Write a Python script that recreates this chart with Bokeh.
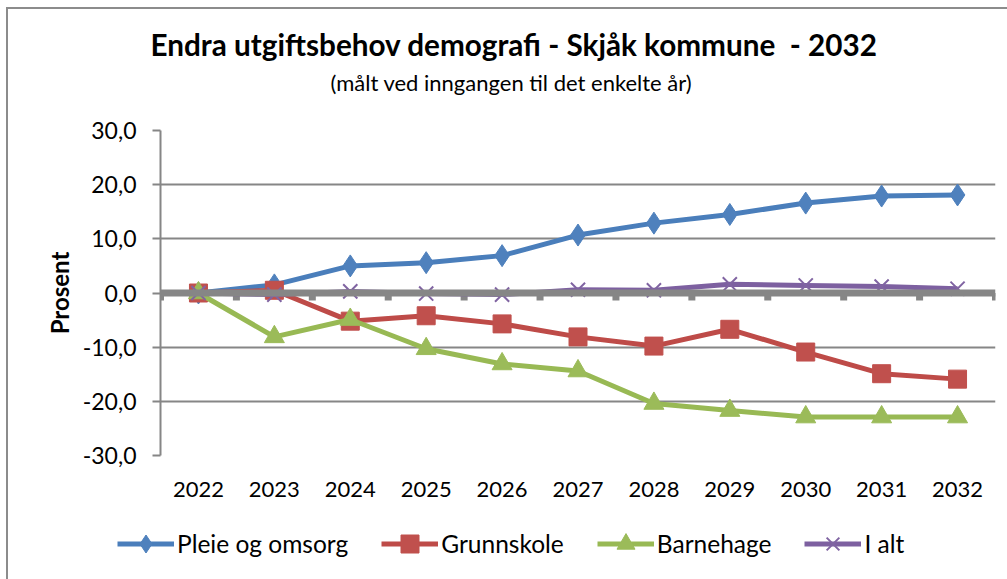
from bokeh.plotting import figure
from bokeh.layouts import column
from bokeh.models import (FactorRange, Range1d, FixedTicker, Span, Title, Legend, LegendItem)
from bokeh.embed import file_html
from bokeh.resources import INLINE

years = ["2022", "2023", "2024", "2025", "2026", "2027", "2028", "2029", "2030", "2031", "2032"]
pleie = [0.0, 1.5, 5.0, 5.6, 6.9, 10.7, 12.9, 14.5, 16.6, 17.9, 18.1]
grunnskole = [0.0, 0.5, -5.2, -4.2, -5.7, -8.1, -9.8, -6.7, -10.9, -14.9, -15.9]
barnehage = [0.0, -8.1, -4.9, -10.3, -13.1, -14.4, -20.4, -21.7, -22.9, -22.9, -22.9]
i_alt = [0.0, -0.3, 0.3, -0.1, -0.3, 0.6, 0.5, 1.6, 1.4, 1.2, 0.8]
y_ticks = [-30, -20, -10, 0, 10, 20, 30]
y_tick_labels = ["-30,0", "-20,0", "-10,0", "0,0", "10,0", "20,0", "30,0"]
series_names = ["Pleie og omsorg", "Grunnskole", "Barnehage", "I alt"]

FONT = "Lato"
GRID = "#868686"
BORDER = "2px solid #8c8c8c"

p = figure(frame_width=833, frame_height=323, x_range=FactorRange(factors=years),
           y_range=Range1d(y_ticks[0], y_ticks[-1]),
           output_backend="svg", toolbar_location=None,
           min_border_left=152, min_border_right=14, min_border_top=121, min_border_bottom=60)
p.frame_align = False
p.margin = (7, 0, 0, 6)
p.styles = {"border-top": BORDER, "border-left": BORDER}
p.outline_line_color = None
p.background_fill_color = "white"
p.border_fill_color = "white"

# titles (stacked from the frame upward)
p.title.visible = False
spacer = Title(text="\u00a0", text_font=FONT, text_font_size="10px", standoff=21)
sub = Title(text="(målt ved inngangen til det enkelte år)", align="left", offset=170,
            text_font=FONT, text_font_size="22px", text_font_style="normal",
            text_color="black", standoff=0)
main = Title(text="Endra utgiftsbehov demografi - Skjåk kommune\u00a0 - 2032", align="left",
             offset=-10, text_font=FONT, text_font_size="29.7px", text_font_style="bold",
             text_color="black", standoff=10)
p.add_layout(spacer, "above")
p.add_layout(sub, "above")
p.add_layout(main, "above")

# y axis
p.yaxis.ticker = FixedTicker(ticks=y_ticks)
p.yaxis.major_label_overrides = {t: l for t, l in zip(y_ticks, y_tick_labels)}
p.yaxis.axis_label = "Prosent"
p.yaxis.axis_label_text_font = FONT
p.yaxis.axis_label_text_font_size = "24px"
p.yaxis.axis_label_text_font_style = "bold"
p.yaxis.axis_label_text_color = "black"
p.yaxis.axis_label_standoff = 6
p.yaxis.major_label_text_font = FONT
p.yaxis.major_label_text_font_size = "23px"
p.yaxis.major_label_text_color = "black"
p.yaxis.major_label_standoff = 16
p.yaxis.axis_line_color = GRID
p.yaxis.axis_line_width = 2
p.yaxis.major_tick_line_color = GRID
p.yaxis.major_tick_line_width = 2
p.yaxis.major_tick_out = 8
p.yaxis.major_tick_in = 0
p.yaxis.minor_tick_line_color = None

# x axis
p.xaxis.axis_line_color = None
p.xaxis.major_tick_line_color = None
p.xaxis.minor_tick_line_color = None
p.xaxis.major_label_text_font = FONT
p.xaxis.major_label_text_font_size = "22px"
p.xaxis.major_label_text_color = "black"
p.xaxis.major_label_standoff = 20

# grid
p.xgrid.grid_line_color = None
p.ygrid.ticker = FixedTicker(ticks=[t for t in y_ticks if t != 0])
p.ygrid.grid_line_color = GRID
p.ygrid.grid_line_width = 2

# zero axis line with tick marks at category boundaries
zero = Span(location=0, dimension="width", line_color="#868686", line_width=7)
p.add_layout(zero)
bounds = list(range(len(years) + 1))
px_per_unit = 323 / (y_ticks[-1] - y_ticks[0])
tick_len = 7.5 / px_per_unit
p.segment(x0=bounds, y0=[0] * len(bounds), x1=bounds, y1=[-tick_len] * len(bounds),
          line_color="#868686", line_width=7)

colors = ["#4A7EBB", "#BE4B48", "#98B954", "#7D60A0"]
mcolors = ["#4F81BD", "#C0504D", "#9BBB59", "#8064A2"]
markers = ["diamond", "square", "triangle", "x"]
sizes = [22, 18, 20, 20]
data = [pleie, grunnskole, barnehage, i_alt]

# legend strip (separate figure right below the chart); its renderers are hidden
lf = figure(width=999, height=66, x_range=FactorRange(factors=years),
            y_range=Range1d(y_ticks[0], y_ticks[-1]),
            output_backend="svg", toolbar_location=None,
            x_axis_location=None, y_axis_location=None,
            min_border=0, min_border_left=0, min_border_right=0,
            min_border_top=0, min_border_bottom=0)
lf.frame_align = False
lf.margin = (0, 0, 0, 6)
lf.styles = {"border-left": BORDER}
lf.outline_line_color = None
lf.grid.visible = False
lf.background_fill_color = "white"
lf.border_fill_color = "white"

items = []
for name, vals, c, mc, mk, sz in zip(series_names, data, colors, mcolors, markers, sizes):
    p.line(years, vals, line_color=c, line_width=5)
    lln = lf.line(years, vals, line_color=c, line_width=5, visible=False)
    if mk == "x":
        p.scatter(years, vals, marker=mk, size=sz, line_color=mc, line_width=2)
        lsc = lf.scatter(years, vals, marker=mk, size=sz, line_color=mc, line_width=2,
                         visible=False)
    else:
        p.scatter(years, vals, marker=mk, size=sz, fill_color=mc, line_color=mc)
        lsc = lf.scatter(years, vals, marker=mk, size=sz, fill_color=mc, line_color=mc,
                         visible=False)
    items.append(LegendItem(label=name, renderers=[lln, lsc]))

legend = Legend(items=items, orientation="horizontal", location=(109, 13),
                glyph_width=57, glyph_height=45, label_standoff=3, spacing=33,
                label_text_font=FONT, label_text_font_size="24.5px", label_text_color="black",
                padding=6, margin=0, border_line_color=None, background_fill_alpha=0,
                click_policy="none")
lf.add_layout(legend, "center")

layout = column(p, lf, spacing=0)
open("out.html", "w").write(file_html(layout, INLINE))
